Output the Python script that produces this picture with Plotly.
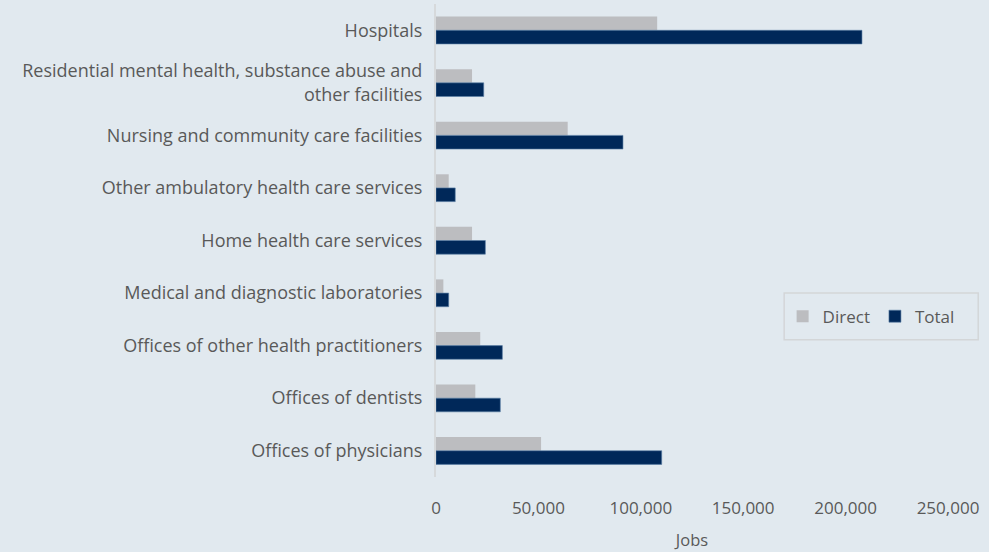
import plotly.graph_objects as go

categories = [
    "Hospitals",
    "Residential mental health, substance abuse and<br>other facilities",
    "Nursing and community care facilities",
    "Other ambulatory health care services",
    "Home health care services",
    "Medical and diagnostic laboratories",
    "Offices of other health practitioners",
    "Offices of dentists",
    "Offices of physicians",
]
direct = [108000, 17600, 64300, 6200, 17600, 3600, 21600, 19200, 51300]
total = [208000, 23300, 91300, 9400, 24100, 6200, 32400, 31400, 110200]
x_ticks = [0, 50000, 100000, 150000, 200000, 250000]
x_ticklabels = ["0", "50,000", "100,000", "150,000", "200,000", "250,000"]

BG = "#e1e9ef"
FONT = "Open Sans"
TXT = "#595959"

fig = go.Figure()
fig.add_trace(go.Bar(name="Direct", y=categories, x=direct, orientation="h",
                     marker=dict(color="#bcbdc0", line=dict(width=0))))
fig.add_trace(go.Bar(name="Total", y=categories, x=total, orientation="h",
                     marker=dict(color="#002859", line=dict(color="#5b7fa6", width=0.6))))

fig.update_layout(
    width=989, height=552,
    paper_bgcolor=BG, plot_bgcolor=BG,
    barmode="group", bargap=0.48, bargroupgap=0,
    margin=dict(l=436, r=41, t=4, b=75),
    font=dict(family=FONT, color=TXT, size=17),
    legend=dict(orientation="h", x=0.677, y=0.339, xanchor="left", yanchor="middle",
                bgcolor="rgba(0,0,0,0)", borderwidth=0,
                font=dict(size=17, color=TXT), itemwidth=30, traceorder="normal"),
    showlegend=True,
    shapes=[dict(type="rect", xref="paper", yref="paper",
                 x0=0.680, x1=1.059, y0=0.290, y1=0.389,
                 line=dict(color="#d3d6d8", width=1.5), fillcolor=BG, layer="below")],
)
fig.update_xaxes(range=[0, 250000], tickvals=x_ticks, ticktext=x_ticklabels,
                 showgrid=False, zeroline=False, showline=False,
                 ticks="outside", ticklen=16, tickcolor=BG,
                 tickfont=dict(size=17, color=TXT),
                 title=dict(text="Jobs", font=dict(size=16.5, color=TXT), standoff=16))
fig.update_yaxes(autorange="reversed", showgrid=False, zeroline=False,
                 showline=True, linecolor="#d6d9db", linewidth=2,
                 ticks="outside", ticklen=8, tickcolor=BG,
                 tickfont=dict(size=18, color=TXT))

fig.write_html("out.html", config={"displayModeBar": False},
               post_script="document.body.style.margin='0';document.body.style.overflow='hidden';")
